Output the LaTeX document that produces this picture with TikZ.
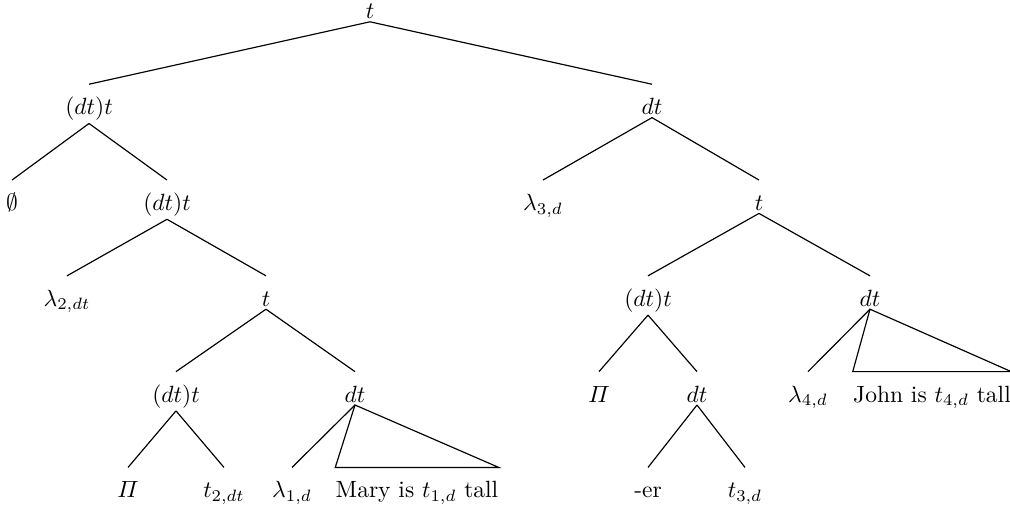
\documentclass[tikz,border=0pt]{standalone}
\usepackage{amsmath}
\begin{document}
\begin{tikzpicture}[x=0.4255pt,y=-0.4255pt,
  tn/.style={anchor=base, inner sep=1pt, text height=11.8pt},
  roof/.style={tn, inner xsep=0pt},
  br/.style={line width=0.5pt, line join=miter}]
\useasboundingbox (0,0) rectangle (1010,509);
% level 0
\node[tn] (r) at (370,19) {$t$};
% level 1
\node[tn] (a) at (89,114.8) {$(dt)t$};
\node[tn] (b) at (652,114.8) {$dt$};
% level 2
\node[tn] (a1) at (12,210.6) {$\emptyset$};
\node[tn] (a2) at (167,210.6) {$(dt)t$};
\node[tn] (b1) at (543,210.6) {$\lambda_{3,d}$};
\node[tn] (b2) at (759,210.6) {$t$};
% level 3
\node[tn] (a21) at (67,306.4) {$\lambda_{2,dt}$};
\node[tn] (a22) at (266,306.4) {$t$};
\node[tn] (b21) at (648,306.4) {$(dt)t$};
\node[tn] (b22) at (870,306.4) {$dt$};
% level 4
\node[tn] (a221) at (176,402.2) {$(dt)t$};
\node[tn] (a222) at (355,402.2) {$dt$};
\node[tn] (b211) at (599,402.2) {$\varPi$};
\node[tn] (b212) at (697,402.2) {$dt$};
\node[tn] (b221) at (808,402.2) {$\lambda_{4,d}$};
\node[roof] (b222) at (932,402.2) {John is $t_{4,d}$ tall};
% level 5
\node[tn] (c1) at (128,498) {$\varPi$};
\node[tn] (c2) at (224,498) {$t_{2,dt}$};
\node[tn] (c3) at (292,498) {$\lambda_{1,d}$};
\node[roof] (c4) at (417,498) {Mary is $t_{1,d}$ tall};
\node[tn] (c5) at (648,498) {-er};
\node[tn] (c6) at (745,498) {$t_{3,d}$};
% edges
\draw[br] (r.south) -- (a.north);
\draw[br] (r.south) -- (b.north);
\draw[br] (a.south) -- (a1.north);
\draw[br] (a.south) -- (a2.north);
\draw[br] (b.south) -- (b1.north);
\draw[br] (b.south) -- (b2.north);
\draw[br] (a2.south) -- (a21.north);
\draw[br] (a2.south) -- (a22.north);
\draw[br] (b2.south) -- (b21.north);
\draw[br] (b2.south) -- (b22.north);
\draw[br] (a22.south) -- (a221.north);
\draw[br] (a22.south) -- (a222.north);
\draw[br] (b21.south) -- (b211.north);
\draw[br] (b21.south) -- (b212.north);
\draw[br] (b22.south) -- (b221.north);
\draw[br] (b22.south) -- (b222.north west) -- (b222.north east) -- cycle;
\draw[br] (a221.south) -- (c1.north);
\draw[br] (a221.south) -- (c2.north);
\draw[br] (a222.south) -- (c3.north);
\draw[br] (a222.south) -- (c4.north west) -- (c4.north east) -- cycle;
\draw[br] (b212.south) -- (c5.north);
\draw[br] (b212.south) -- (c6.north);
\end{tikzpicture}
\end{document}
